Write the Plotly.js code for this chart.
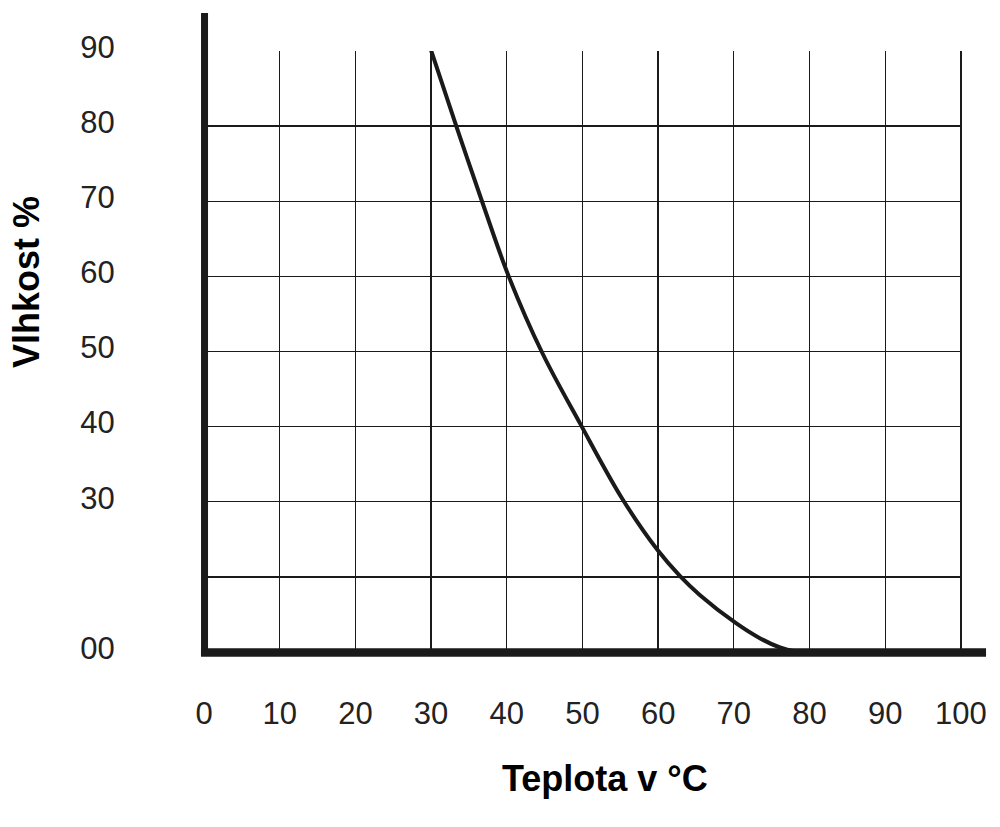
<!DOCTYPE html>
<html>
<head>
<meta charset="utf-8">
<script src="https://cdn.plot.ly/plotly-3.0.1.min.js"></script>
<style>html,body{margin:0;padding:0;background:#fff;}#chart{width:1000px;height:827px;}</style>
</head>
<body>
<div id="chart"></div>
<script>
// Curve: humidity (%) vs temperature (°C)
const temperature = [30.0, 33.4, 37.0, 40.3, 44.7, 49.7, 55.2, 59.9, 62.9, 65.5, 70.2, 73.5, 76.1, 78.4];
const humidity    = [90.1, 79.8, 69.2, 59.9, 49.8, 40.4, 30.5, 23.6, 20.1, 17.6, 13.9, 11.8, 10.6, 10.0];

// Axis ticks
const xTickVals  = [0, 10, 20, 30, 40, 50, 60, 70, 80, 90, 100];
const xTickText  = ["0", "10", "20", "30", "40", "50", "60", "70", "80", "90", "100"];
const yTickVals  = [10, 30, 40, 50, 60, 70, 80, 90];
const yTickText  = ["00", "30", "40", "50", "60", "70", "80", "90"];
const yGridVals  = [20, 30, 40, 50, 60, 70, 80];

const xTitle = "Teplota v °C";
const yTitle = "Vlhkost %";

const ink = "#1a1a1a";
const textCol = "#222222";
const font = "Liberation Sans, Arial, Helvetica, sans-serif";

const trace = {
  x: temperature,
  y: humidity,
  type: "scatter",
  mode: "lines",
  line: {color: ink, width: 4, shape: "spline", smoothing: 1},
  hoverinfo: "skip",
  showlegend: false
};

const layout = {
  width: 1000,
  height: 827,
  margin: {l: 204, r: 38, t: 51, b: 175, pad: 0},
  paper_bgcolor: "#ffffff",
  plot_bgcolor: "#ffffff",
  showlegend: false,
  xaxis: {
    range: [0, 100.15],
    tickmode: "array",
    tickvals: xTickVals,
    ticktext: xTickText,
    showgrid: true,
    gridcolor: ink,
    gridwidth: 1.3,
    zeroline: false,
    showline: false,
    ticks: "outside",
    ticklen: 34,
    tickcolor: "rgba(0,0,0,0)",
    tickfont: {family: font, size: 31, color: textCol},
    fixedrange: true
  },
  yaxis: {
    range: [10, 90],
    tickmode: "array",
    tickvals: yTickVals,
    ticktext: yTickText,
    showgrid: false,
    minor: {tickmode: "array", tickvals: yGridVals, showgrid: true, gridcolor: ink, gridwidth: 1.3, ticks: ""},
    zeroline: false,
    showline: false,
    ticks: "outside",
    ticklen: 82,
    tickcolor: "rgba(0,0,0,0)",
    ticklabelshift: -4,
    tickfont: {family: font, size: 31, color: textCol},
    fixedrange: true
  },
  shapes: [
    // thick vertical axis line (extends above the grid)
    {type: "line", xref: "paper", yref: "paper", x0: 0.0007, x1: 0.0007, y0: -0.0066, y1: 1.0632,
     line: {color: ink, width: 7}, layer: "above"},
    // thick horizontal axis line (extends right of the grid)
    {type: "line", xref: "paper", yref: "paper", x0: -0.004, x1: 1.0317, y0: -0.0008, y1: -0.0008,
     line: {color: ink, width: 8.5}, layer: "above"}
  ],
  annotations: [
    {text: "<b>" + xTitle + "</b>", xref: "paper", yref: "paper", x: 0.529, y: -0.21,
     xanchor: "center", yanchor: "middle", showarrow: false,
     font: {family: font, size: 36, color: "#000"}},
    {text: "<b>" + yTitle + "</b>", xref: "paper", yref: "paper", x: -0.234, y: 0.615,
     xanchor: "center", yanchor: "middle", showarrow: false, textangle: -90,
     font: {family: font, size: 36, color: "#000"}}
  ]
};

Plotly.newPlot("chart", [trace], layout, {displayModeBar: false, staticPlot: true});
</script>
</body>
</html>
